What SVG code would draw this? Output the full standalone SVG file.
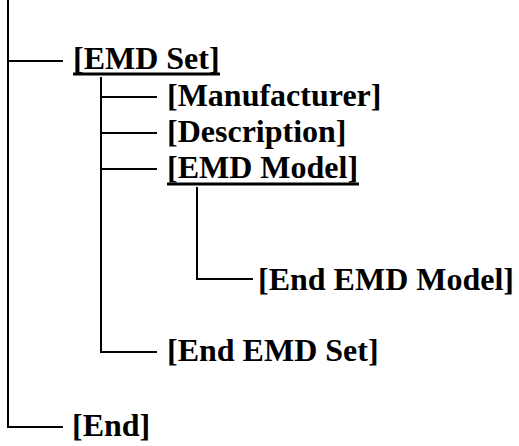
<svg xmlns="http://www.w3.org/2000/svg" width="519" height="446" viewBox="0 0 519 446">
  <style>
    .t { font-family: "Liberation Serif", "Times New Roman", serif; font-weight: bold; font-size: 32px; fill: #000; }
    .c { stroke: #000; stroke-width: 2; fill: none; }
    .ul { stroke: #000; stroke-width: 3; }
  </style>
  <rect width="519" height="446" fill="#fff"/>
  <g id="connectors">
    <path class="c" d="M8 0 V427 H63"/>
    <path class="c" d="M8 61 H63"/>
    <path class="c" d="M101 77 V352 H157"/>
    <path class="c" d="M101 97 H157"/>
    <path class="c" d="M101 133 H157"/>
    <path class="c" d="M101 169 H157"/>
    <path class="c" d="M197 187 V279 H253"/>
  </g>
  <g id="emd-set">
    <text class="t" x="73" y="69">[EMD Set]</text>
    <line class="ul" x1="73" y1="74" x2="220" y2="74"/>
  </g>
  <g id="manufacturer"><text class="t" x="167" y="106">[Manufacturer]</text></g>
  <g id="description"><text class="t" x="167" y="142">[Description]</text></g>
  <g id="emd-model">
    <text class="t" x="167" y="178">[EMD Model]</text>
    <line class="ul" x1="167" y1="184" x2="359" y2="184"/>
  </g>
  <g id="end-emd-model"><text class="t" x="258" y="290">[End EMD Model]</text></g>
  <g id="end-emd-set"><text class="t" x="167" y="361">[End EMD Set]</text></g>
  <g id="end"><text class="t" x="72" y="436">[End]</text></g>
</svg>
